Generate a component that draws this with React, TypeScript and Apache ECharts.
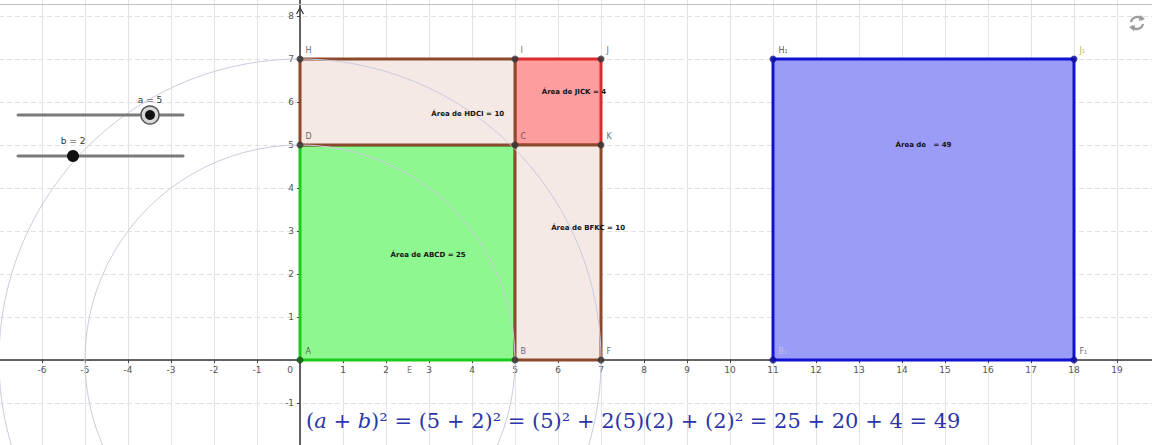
import React, { useEffect, useRef } from "react";
import * as echarts from "echarts";

// slider values
const a = 5;
const b = 2;

// visible window of the graphics view (axis units)
const xRange = [-7, 20];
const yRange = [-2, 9];

// polygons (drawn in this order)
const regionNames = ["ABCD", "JICK", "HDCI", "BFKC", "H₁J₁F₁B₁"];
const regionX0 = [0, 5, 0, 5, 11];
const regionY0 = [0, 5, 5, 0, 0];
const regionX1 = [5, 7, 5, 7, 18];
const regionY1 = [5, 7, 7, 5, 7];
const regionAreas = [25, 4, 10, 10, 49];

// area texts
const areaTextNames = ["ABCD", "JICK", "HDCI", "BFKC", " "];
const areaTextX = [2.98, 6.37, 3.9, 6.7, 14.5];
const areaTextY = [2.44, 6.23, 5.72, 3.07, 5.0];

// points
const pointNames = ["A", "B", "C", "D", "H", "I", "J", "K", "F", "H₁", "J₁", "B₁", "F₁"];
const pointX = [0, 5, 5, 0, 0, 5, 7, 7, 7, 11, 18, 11, 18];
const pointY = [0, 0, 5, 5, 7, 7, 7, 5, 0, 7, 7, 0, 0];

// extra label
const extraLabelNames = ["E"];
const extraLabelX = [2.55];
const extraLabelY = [-0.25];

// circles centred at A
const circleRadii = [a + b, a];

// sliders
const sliderNames = ["a", "b"];
const sliderValues = [a, b];
const sliderMin = [1, 0];
const sliderMax = [6, 6];

// styles
const regionFill = ["#8ff78f", "#fd9d9d", "#f5e9e5", "#f5e9e5", "#9b9bf8"];
const regionStroke = ["#1ccc1c", "#de2a2a", "#8c4a2c", "#8c4a2c", "#1212d2"];
const pointColor = ["#145214", "#333", "#333", "#333", "#333", "#333", "#333", "#333", "#333", "#10109a", "#10109a", "#10109a", "#10109a"];
const pointLabelColor = ["#444", "#446", "#444", "#444", "#335", "#444", "#444", "#444", "#444", "#223", "#a8a030", "#ccd", "#444"];

const FORMULA_COLOR = "#2b36aa";

// layout of the view (pixels)
const GRID_LEFT = -1;
const GRID_TOP = -27;
const GRID_W = 1161;
const GRID_H = 473;

export default function App() {
  const ref = useRef<HTMLDivElement>(null);

  useEffect(() => {
    if (!ref.current) return;
    const chart = echarts.init(ref.current, undefined, { renderer: "svg" });

    const unitX = GRID_W / (xRange[1] - xRange[0]);
    const unitY = GRID_H / (yRange[1] - yRange[0]);
    // move axes to the origin
    const yAxisOffset = -(0 - xRange[0]) * unitX;
    const xAxisOffset = -(0 - yRange[0]) * unitY;

    const sliderLeft = 18;
    const sliderRight = 183;
    const sliderYs = [115, 156];
    const sliderGraphics: any[] = [];
    sliderNames.forEach((n, i) => {
      const y = sliderYs[i];
      const kx = sliderLeft + ((sliderValues[i] - sliderMin[i]) / (sliderMax[i] - sliderMin[i])) * (sliderRight - sliderLeft);
      sliderGraphics.push({
        type: "line",
        shape: { x1: sliderLeft, y1: y, x2: sliderRight, y2: y },
        style: { stroke: "#7a7a7a", lineWidth: 3, lineCap: "round" },
        z: 100,
      });
      if (i === 0) {
        sliderGraphics.push({
          type: "circle",
          shape: { cx: kx, cy: y, r: 9 },
          style: { fill: "#d8d8d8", stroke: "#555", lineWidth: 1.5 },
          z: 101,
        });
      }
      sliderGraphics.push({
        type: "circle",
        shape: { cx: kx, cy: y, r: i === 0 ? 5 : 6 },
        style: { fill: "#111" },
        z: 102,
      });
      sliderGraphics.push({
        type: "text",
        x: kx,
        y: y - 15,
        style: {
          text: `${n} = ${sliderValues[i]}`,
          fontSize: 9,
          fontFamily: "DejaVu Sans",
          fill: "#333",
          textAlign: "center",
          textVerticalAlign: "middle",
        },
        z: 102,
      });
    });

    const sq = (v: string | number) => `(${v})²`;
    const formulaText =
      `({i|a} + {i|b})² = (${a} + ${b})² = ${sq(a)} + 2(${a})(${b}) + ${sq(b)} = ${a * a} + ${2 * a * b} + ${b * b} = ${(a + b) * (a + b)}`;

    const option: any = {
      animation: false,
      grid: { left: GRID_LEFT, top: GRID_TOP, width: GRID_W, height: GRID_H, containLabel: false, outerBoundsMode: "none" },
      xAxis: {
        type: "value",
        position: "bottom",
        offset: xAxisOffset,
        min: xRange[0],
        max: xRange[1],
        interval: 1,
        axisLine: { onZero: false, lineStyle: { color: "#333", width: 1.5 } },
        axisTick: { show: true, length: 3, lineStyle: { color: "#444" } },
        axisLabel: {
          fontSize: 9,
          color: "#555",
          margin: 5,
          fontFamily: "DejaVu Sans",
          hideOverlap: false,
          formatter: (v: number) => (v === 0 ? "{z|0}" : v <= xRange[0] || v >= xRange[1] ? "" : String(v)),
          rich: { z: { padding: [0, 20, 0, 0], fontSize: 9, color: "#555", fontFamily: "DejaVu Sans" } },
        },
        splitLine: { show: true, lineStyle: { color: "#e3e3e3", width: 1 } },
      },
      yAxis: {
        type: "value",
        position: "left",
        offset: yAxisOffset,
        min: yRange[0],
        max: yRange[1],
        interval: 1,
        axisLine: { onZero: false, lineStyle: { color: "#333", width: 1.5 } },
        axisTick: { show: true, length: 3, lineStyle: { color: "#444" } },
        axisLabel: {
          fontSize: 9,
          color: "#555",
          margin: 6,
          fontFamily: "DejaVu Sans",
          hideOverlap: false,
          formatter: (v: number) => (v === 0 || v <= yRange[0] || v >= yRange[1] ? "" : String(v)),
        },
        splitLine: { show: true, lineStyle: { color: "#e0e0e0", width: 1, type: [5, 3] } },
      },
      series: [
        {
          type: "custom",
          name: "circles",
          coordinateSystem: "cartesian2d",
          data: circleRadii.map((r) => [0, 0, r]),
          z: 3,
          renderItem: (params: any, api: any) => {
            const c = api.coord([api.value(0), api.value(1)]);
            const r = api.size([api.value(2), 0])[0];
            return {
              type: "circle",
              shape: { cx: c[0], cy: c[1], r },
              style: { fill: "none", stroke: "#cbcbdf", lineWidth: 1 },
              z2: 50,
            };
          },
        },
        {
          type: "custom",
          name: "regions",
          coordinateSystem: "cartesian2d",
          data: regionNames.map((n, i) => ({ name: n, value: [regionX0[i], regionY0[i], regionX1[i], regionY1[i], regionAreas[i]] })),
          z: 2,
          renderItem: (params: any, api: any) => {
            const i = params.dataIndex;
            const p0 = api.coord([api.value(0), api.value(3)]);
            const p1 = api.coord([api.value(2), api.value(1)]);
            return {
              type: "rect",
              shape: { x: p0[0], y: p0[1], width: p1[0] - p0[0], height: p1[1] - p0[1] },
              style: { fill: regionFill[i], stroke: regionStroke[i], lineWidth: 3 },
            };
          },
        },
        {
          type: "custom",
          name: "areaTexts",
          coordinateSystem: "cartesian2d",
          data: areaTextNames.map((n, i) => ({ name: n, value: [areaTextX[i], areaTextY[i], regionAreas[i]] })),
          z: 6,
          renderItem: (params: any, api: any) => {
            const i = params.dataIndex;
            const c = api.coord([api.value(0), api.value(1)]);
            return {
              type: "text",
              x: c[0],
              y: c[1],
              style: {
                text: `Área de ${areaTextNames[i]} = ${api.value(2)}`,
                fontSize: 7,
                fontWeight: "bold",
                fontFamily: "DejaVu Sans",
                fill: "#141414",
                textAlign: "center",
                textVerticalAlign: "middle",
              },
            };
          },
        },
        {
          type: "scatter",
          name: "points",
          z: 5,
          symbolSize: 7,
          data: pointNames.map((n, i) => ({
            name: n,
            value: [pointX[i], pointY[i]],
            itemStyle: { color: pointColor[i] },
            label: { color: pointLabelColor[i] },
          })),
          label: {
            show: true,
            formatter: (p: any) => p.name,
            position: "right",
            offset: [-3, -9],
            fontSize: 8,
            fontFamily: "DejaVu Sans",
          },
        },
        {
          type: "scatter",
          name: "extra",
          z: 5,
          symbolSize: 0,
          data: extraLabelNames.map((n, i) => ({ name: n, value: [extraLabelX[i], extraLabelY[i]] })),
          label: {
            show: true,
            formatter: (p: any) => p.name,
            position: "inside",
            fontSize: 8,
            color: "#555",
            fontFamily: "DejaVu Sans",
          },
        },
      ],
      graphic: [
        {
          type: "line",
          shape: { x1: 0, y1: 4.5, x2: 1152, y2: 4.5 },
          style: { stroke: "#c4c4c4", lineWidth: 1 },
          z: 100,
        },
        {
          type: "polyline",
          shape: { points: [[296.5, 14], [300, 8], [303.5, 14]] },
          style: { stroke: "#333", lineWidth: 1.2, fill: "none" },
          z: 100,
        },
        ...sliderGraphics,
        {
          type: "text",
          x: 306,
          y: 421,
          style: {
            text: formulaText,
            fontSize: 21,
            fontFamily: "DejaVu Serif",
            fill: FORMULA_COLOR,
            textVerticalAlign: "middle",
            rich: {
              i: { fontStyle: "italic", fontSize: 21, fontFamily: "DejaVu Serif", fill: FORMULA_COLOR },
            },
          },
          z: 100,
        },
        {
          type: "arc",
          shape: { cx: 1137, cy: 23, r: 6, startAngle: -Math.PI * 0.95, endAngle: -Math.PI * 0.15 },
          style: { stroke: "#9a9a9a", lineWidth: 2.2, fill: "none" },
          z: 100,
        },
        {
          type: "arc",
          shape: { cx: 1137, cy: 23, r: 6, startAngle: Math.PI * 0.05, endAngle: Math.PI * 0.85 },
          style: { stroke: "#9a9a9a", lineWidth: 2.2, fill: "none" },
          z: 100,
        },
        {
          type: "polygon",
          shape: { points: [[1140, 15], [1145, 19], [1139, 21]] },
          style: { fill: "#9a9a9a" },
          z: 100,
        },
        {
          type: "polygon",
          shape: { points: [[1134, 31], [1129, 27], [1135, 25]] },
          style: { fill: "#9a9a9a" },
          z: 100,
        },
      ],
    };

    chart.setOption(option);
    return () => chart.dispose();
  }, []);

  return (
    <div
      ref={ref}
      style={{ position: "fixed", left: 0, top: 0, width: 1152, height: 445, background: "#fff" }}
    />
  );
}
